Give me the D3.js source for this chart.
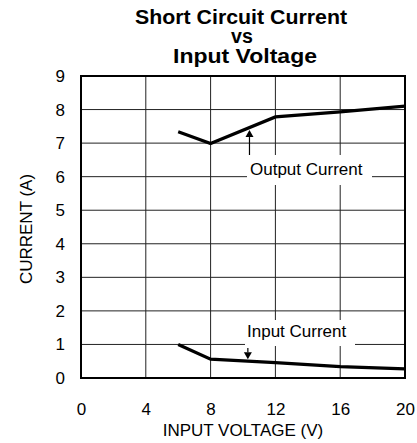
<!DOCTYPE html>
<html>
<head>
<meta charset="utf-8">
<script src="https://cdn.jsdelivr.net/npm/d3@7"></script>
<style>
  html, body { margin: 0; padding: 0; background: #fff; }
  svg { display: block; font-family: "Liberation Sans", Arial, Helvetica, sans-serif; }
</style>
</head>
<body>
<svg id="chart" width="417" height="443"></svg>
<script>
// Short circuit current vs input voltage
const titleLines = ["Short Circuit Current", "vs", "Input Voltage"];
const xTicks = [0, 4, 8, 12, 16, 20];
const yTicks = [0, 1, 2, 3, 4, 5, 6, 7, 8, 9];
const voltage = [6, 8, 12, 16, 20];
const outputCurrent = [7.34, 6.99, 7.78, 7.93, 8.1];
const inputCurrent = [1.0, 0.56, 0.46, 0.34, 0.27];
const outputLabel = "Output Current";
const inputLabel = "Input Current";
const outputArrowV = 10.4;
const inputArrowV = 10.3;

const svg = d3.select("#chart");
const plot = { left: 81, right: 405, top: 76, bottom: 378 };

const x = d3.scaleLinear().domain([0, 20]).range([plot.left, plot.right]);
const y = d3.scaleLinear().domain([0, 9]).range([plot.bottom, plot.top]);

// Title: three centred bold lines
const titleLayout = [
  { cx: 241, base: 23.5, len: 212 },
  { cx: 242, base: 43.3, len: null },
  { cx: 245, base: 62.8, len: 144 }
];
svg.append("g").selectAll("text")
  .data(titleLines)
  .join("text")
  .attr("x", (d, i) => titleLayout[i].cx)
  .attr("y", (d, i) => titleLayout[i].base)
  .attr("text-anchor", "middle")
  .attr("font-size", 19.6)
  .attr("font-weight", "bold")
  .attr("fill", "#000")
  .each(function (d, i) {
    if (titleLayout[i].len) {
      d3.select(this)
        .attr("textLength", titleLayout[i].len)
        .attr("lengthAdjust", "spacingAndGlyphs");
    }
  })
  .text(d => d);

// Grid
const grid = svg.append("g").attr("stroke", "#222").attr("stroke-width", 1);
grid.selectAll("line.v")
  .data(xTicks.slice(1, -1))
  .join("line")
  .attr("class", "v")
  .attr("x1", d => x(d)).attr("x2", d => x(d))
  .attr("y1", plot.top).attr("y2", plot.bottom);
grid.selectAll("line.h")
  .data(yTicks.slice(1, -1))
  .join("line")
  .attr("class", "h")
  .attr("x1", plot.left).attr("x2", plot.right)
  .attr("y1", d => y(d)).attr("y2", d => y(d));

// Axes tick labels
const xAxis = d3.axisBottom(x).tickValues(xTicks).tickSize(0).tickPadding(25);
svg.append("g")
  .attr("transform", `translate(0,${plot.bottom})`)
  .call(xAxis)
  .call(g => g.select(".domain").remove())
  .call(g => g.selectAll("text").attr("font-size", 17).attr("fill", "#000")
    .attr("font-family", "Liberation Sans, Arial, sans-serif"));

const yAxis = d3.axisLeft(y).tickValues(yTicks).tickSize(0).tickPadding(16);
svg.append("g")
  .attr("transform", `translate(${plot.left},0)`)
  .call(yAxis)
  .call(g => g.select(".domain").remove())
  .call(g => g.selectAll("text").attr("font-size", 17).attr("fill", "#000")
    .attr("font-family", "Liberation Sans, Arial, sans-serif"));

// Axis titles
svg.append("text")
  .attr("x", 243).attr("y", 435.5)
  .attr("text-anchor", "middle")
  .attr("font-size", 17)
  .text("INPUT VOLTAGE (V)");
svg.append("text")
  .attr("transform", `translate(32,${(plot.top + plot.bottom) / 2 + 2}) rotate(-90)`)
  .attr("text-anchor", "middle")
  .attr("font-size", 17)
  .text("CURRENT (A)");

// Label boxes hide grid behind callout text
const labels = [
  { text: outputLabel, box: [247, 155, 125, 30], tx: 250, ty: 175 },
  { text: inputLabel, box: [245, 320, 110, 26], tx: 247, ty: 336.5 }
];
svg.append("g").selectAll("rect")
  .data(labels)
  .join("rect")
  .attr("x", d => d.box[0]).attr("y", d => d.box[1])
  .attr("width", d => d.box[2]).attr("height", d => d.box[3])
  .attr("fill", "#fff");
svg.append("g").selectAll("text")
  .data(labels)
  .join("text")
  .attr("x", d => d.tx).attr("y", d => d.ty)
  .attr("font-size", 17)
  .attr("fill", "#000")
  .text(d => d.text);

// Frame
svg.append("rect")
  .attr("x", plot.left).attr("y", plot.top)
  .attr("width", plot.right - plot.left).attr("height", plot.bottom - plot.top)
  .attr("fill", "none").attr("stroke", "#000").attr("stroke-width", 2);

// Curves
const line = d3.line().x(d => x(d[0])).y(d => y(d[1]));
const series = [
  voltage.map((v, i) => [v, outputCurrent[i]]),
  voltage.map((v, i) => [v, inputCurrent[i]])
];
svg.append("g").selectAll("path")
  .data(series)
  .join("path")
  .attr("d", line)
  .attr("fill", "none")
  .attr("stroke", "#000")
  .attr("stroke-width", 3.2)
  .attr("stroke-linejoin", "miter");

// Callout arrows pointing at each curve
const interp = (vs, cs, v) => {
  for (let i = 0; i < vs.length - 1; i++) {
    if (v >= vs[i] && v <= vs[i + 1]) {
      const t = (v - vs[i]) / (vs[i + 1] - vs[i]);
      return cs[i] + t * (cs[i + 1] - cs[i]);
    }
  }
  return cs[cs.length - 1];
};
const arrows = [
  { x: x(outputArrowV), from: 155, to: y(interp(voltage, outputCurrent, outputArrowV)) + 2.5 },
  { x: x(inputArrowV), from: 348, to: y(interp(voltage, inputCurrent, inputArrowV)) - 2 }
];
const ag = svg.append("g");
arrows.forEach(a => {
  const dir = a.to < a.from ? -1 : 1;
  const headLen = 7;
  ag.append("line")
    .attr("x1", a.x).attr("x2", a.x)
    .attr("y1", a.from).attr("y2", a.to - dir * headLen)
    .attr("stroke", "#000").attr("stroke-width", 1.2);
  ag.append("path")
    .attr("d", `M${a.x},${a.to} L${a.x - 4},${a.to - dir * headLen} L${a.x + 4},${a.to - dir * headLen} Z`)
    .attr("fill", "#000");
});
</script>
</body>
</html>
